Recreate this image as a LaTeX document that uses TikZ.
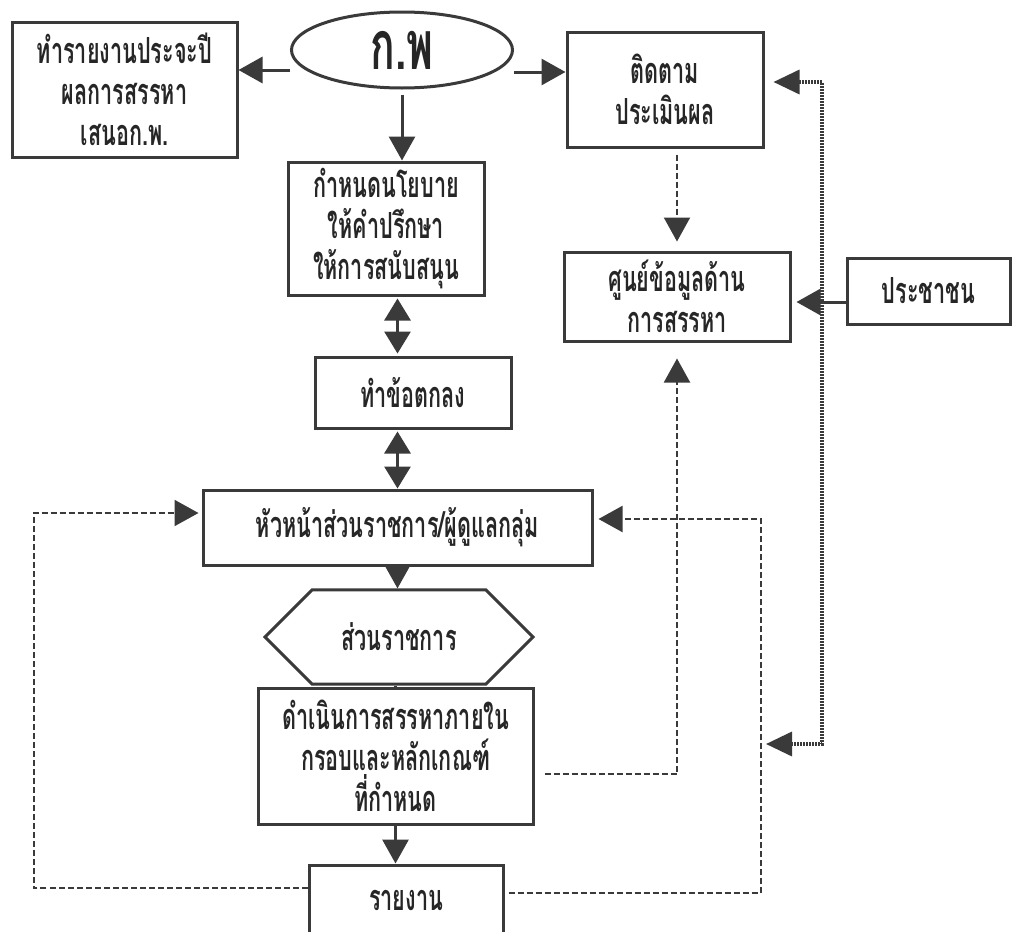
\documentclass[tikz,border=0pt]{standalone}
\usepackage{fontspec}
\newfontfamily\thaifont[Script=Thai,FakeStretch=0.6]{Loma}
\usetikzlibrary{arrows.meta,shapes.geometric,shapes.misc}
\definecolor{ink}{HTML}{3A3A3A}
\tikzset{
	box/.style={draw=ink, line width=1.5pt, rectangle, align=center, inner sep=0pt, text=black!85,
		font=\thaifont\bfseries\fontsize{18}{20.5}\selectfont},
	arr/.style={ink, line width=1.5pt, -{Triangle[length=12pt,width=13pt]}},
	dbl/.style={ink, line width=1.5pt, {Triangle[length=11pt,width=13pt]}-{Triangle[length=11pt,width=13pt]}},
	dasharr/.style={ink, line width=1pt, dash pattern=on 3pt off 1.5pt, -{Triangle[length=12pt,width=13pt]}},
	dotarr/.style={ink, line width=1.7pt, dash pattern=on 0.9pt off 0.6pt, {Triangle[length=13pt,width=12pt]}-{Triangle[length=13pt,width=12pt]}}
}
\begin{document}
\begin{tikzpicture}[x=0.5pt,y=-0.5pt]
		\clip (0,0) rectangle (1014,932);
		\fill[white] (0,0) rectangle (1014,932);
		\node (kp) [ellipse, draw=ink, line width=1.5pt, inner sep=0pt, minimum width=110.5pt, minimum height=38pt,
			font=\thaifont\bfseries\fontsize{34}{34}\selectfont, text=black!85] at (402,50) {ก.พ};
		\node (rep) [box, minimum width=112.5pt, minimum height=67.5pt] at (124.5,89.5) {ทำรายงานประจะปี\\ผลการสรรหา\\เสนอก.พ.};
		\node (mon) [box, minimum width=98pt, minimum height=57.5pt] at (665,89.5) {ติดตาม\\ประเมินผล};
		\node (pol) [box, minimum width=98pt, minimum height=66.5pt] at (386,228.5) {กำหนดนโยบาย\\ให้คำปรึกษา\\ให้การสนับสนุน};
		\node (data) [box, minimum width=113pt, minimum height=44.5pt] at (677,296.5) {ศูนย์ข้อมูลด้าน\\การสรรหา};
		\node (ppl) [box, minimum width=81.5pt, minimum height=33pt] at (928.5,291) {ประชาชน};
		\node (agr) [box, minimum width=98pt, minimum height=35.5pt] at (413,392.5) {ทำข้อตกลง};
		\node (head) [box, minimum width=194.5pt, minimum height=37.5pt] at (397.5,527.5) {หัวหน้าส่วนราชการ/ผู้ดูแลกลุ่ม};
		\node (hex) [box, chamfered rectangle, chamfered rectangle xsep=33.75pt, chamfered rectangle ysep=16.5pt,
			minimum width=134pt, minimum height=33pt] at (399,637) {ส่วนราชการ};
		\node (proc) [box, minimum width=137.5pt, minimum height=68pt] at (395.5,756) {ดำเนินการสรรหาภายใน\\กรอบและหลักเกณฑ์\\ที่กำหนด};
		\node (fin) [box, minimum width=97pt, minimum height=35pt] at (406,900) {รายงาน};
		\coordinate (dotend) at (766,744);
		\draw[arr] ([yshift=-10pt]kp.west) -- ([yshift=-10pt]kp.west -| rep.east);
		\draw[arr] ([yshift=-11pt]kp.east) -- ([yshift=-11pt]kp.east -| mon.west);
		\draw[arr, shorten <=2.5pt] (kp.south) -- (kp.south |- pol.north);
		\draw[dbl, shorten <=1pt, shorten >=1pt] (pol.south -| head.north) -- (agr.north -| head.north);
		\draw[dbl, shorten <=1pt] (agr.south -| head.north) -- (head.north);
		\draw[arr] (head.south) -- (head.south |- hex.north);
		\draw[ink, line width=1.5pt] (hex.south -| proc.north) -- (proc.north);
		\draw[arr] (proc.south) -- (proc.south |- fin.north);
		\draw[dasharr, shorten <=3pt, shorten >=4.5pt] (mon.south -| data.north) -- (data.north);
		\draw[arr, shorten >=2.5pt] ([yshift=-5.5pt]ppl.west) -- ([yshift=-5.5pt]ppl.west -| data.east);
		\draw[dasharr, shorten >=8pt] ([xshift=5pt,yshift=-9pt]proc.east) -| (data.south);
		\draw[dasharr] ([xshift=2pt,yshift=3.5pt]fin.east) -- ++(252,0) |- ([xshift=2.5pt,yshift=4.25pt]head.east);
		\draw[dasharr] ([yshift=6pt]fin.west) -- ++(-274,0) |- ([xshift=-1.5pt,yshift=7.25pt]head.west);
		\draw[dotarr, shorten >=4.5pt] (dotend) -- ++(56,0) |- ([yshift=3.75pt]mon.east);
\end{tikzpicture}
\end{document}
